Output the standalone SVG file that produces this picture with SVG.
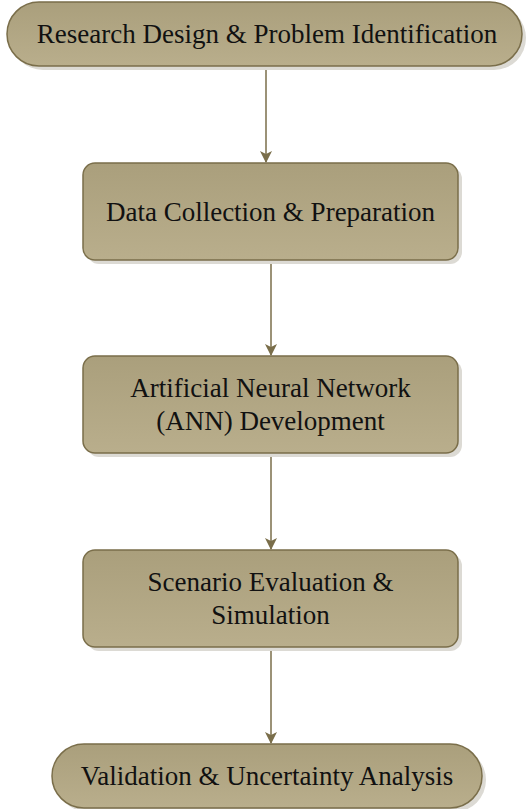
<svg xmlns="http://www.w3.org/2000/svg" width="532" height="809" viewBox="0 0 532 809">
<defs>
<linearGradient id="g" x1="0" y1="0" x2="0" y2="1">
<stop offset="0" stop-color="#aa9f7c"/>
<stop offset="1" stop-color="#b9ae8c"/>
</linearGradient>
<marker id="ah" markerWidth="12" markerHeight="12" viewBox="0 0 12 12" refX="11" refY="6" orient="auto" markerUnits="userSpaceOnUse">
<path d="M0,0 L12,6 L0,12 L3,6 Z" fill="#7a6e4a"/>
</marker>
</defs>
<style>
.n{fill:url(#g);stroke:#7a6e4a;stroke-width:1.5}
.s{fill:#dcdad4}
.t{font-family:"Liberation Serif","Times New Roman",serif;font-size:27px;fill:#111;text-anchor:middle}
.c{stroke:#7a6e4a;stroke-width:1.5;fill:none;marker-end:url(#ah)}
</style>
<g id="connectors">
<line class="c" x1="266" y1="66" x2="266" y2="162"/>
<line class="c" x1="271" y1="261" x2="271" y2="355"/>
<line class="c" x1="271" y1="454" x2="271" y2="549"/>
<line class="c" x1="271" y1="648" x2="271" y2="743"/>
</g>
<g id="n1">
<rect class="s" x="11" y="6" width="515" height="64" rx="32"/>
<rect class="n" x="7" y="2" width="515" height="64" rx="32"/>
<text class="t" x="267" y="43">Research Design &amp; Problem Identification</text>
</g>
<g id="n2">
<rect class="s" x="87" y="167" width="375" height="97" rx="12"/>
<rect class="n" x="83" y="163" width="375" height="97" rx="12"/>
<text class="t" x="270.5" y="221">Data Collection &amp; Preparation</text>
</g>
<g id="n3">
<rect class="s" x="87" y="360" width="375" height="97" rx="12"/>
<rect class="n" x="83" y="356" width="375" height="97" rx="12"/>
<text class="t" x="270.5" y="397">Artificial Neural Network</text>
<text class="t" x="270.5" y="430">(ANN) Development</text>
</g>
<g id="n4">
<rect class="s" x="87" y="554" width="375" height="97" rx="12"/>
<rect class="n" x="83" y="550" width="375" height="97" rx="12"/>
<text class="t" x="270.5" y="591">Scenario Evaluation &amp;</text>
<text class="t" x="270.5" y="624">Simulation</text>
</g>
<g id="n5">
<rect class="s" x="56" y="748" width="430" height="64" rx="32"/>
<rect class="n" x="52" y="744" width="430" height="64" rx="32"/>
<text class="t" x="267" y="785">Validation &amp; Uncertainty Analysis</text>
</g>
</svg>
